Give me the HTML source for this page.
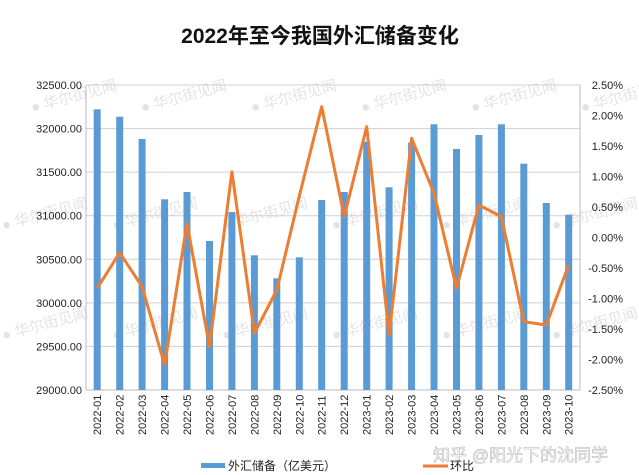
<!DOCTYPE html>
<html><head><meta charset="utf-8"><style>
html,body{margin:0;padding:0;background:#fff;}
svg{display:block;font-family:"Liberation Sans","Noto Sans CJK SC",sans-serif;}
</style></head><body>
<svg width="639" height="475" viewBox="0 0 639 475" xmlns="http://www.w3.org/2000/svg">
<rect width="639" height="475" fill="#fff"/>
<text x="320" y="43" text-anchor="middle" font-size="21" font-weight="bold" fill="#111">2022年至今我国外汇储备变化</text>
<g fill="#ddd" font-size="15" opacity="0.8">
<g transform="rotate(-15 60 100)"><text x="30" y="105">● 华尔街见闻</text></g>
<g transform="rotate(-15 170 100)"><text x="140" y="105">● 华尔街见闻</text></g>
<g transform="rotate(-15 280 100)"><text x="250" y="105">● 华尔街见闻</text></g>
<g transform="rotate(-15 390 100)"><text x="360" y="105">● 华尔街见闻</text></g>
<g transform="rotate(-15 500 100)"><text x="470" y="105">● 华尔街见闻</text></g>
<g transform="rotate(-15 610 100)"><text x="580" y="105">● 华尔街见闻</text></g>
<g transform="rotate(-15 60 210)"><text x="0" y="215">● 华尔街见闻</text></g>
<g transform="rotate(-15 170 210)"><text x="110" y="215">● 华尔街见闻</text></g>
<g transform="rotate(-15 280 210)"><text x="220" y="215">● 华尔街见闻</text></g>
<g transform="rotate(-15 390 210)"><text x="330" y="215">● 华尔街见闻</text></g>
<g transform="rotate(-15 500 210)"><text x="440" y="215">● 华尔街见闻</text></g>
<g transform="rotate(-15 610 210)"><text x="550" y="215">● 华尔街见闻</text></g>
<g transform="rotate(-15 60 320)"><text x="0" y="325">● 华尔街见闻</text></g>
<g transform="rotate(-15 170 320)"><text x="110" y="325">● 华尔街见闻</text></g>
<g transform="rotate(-15 280 320)"><text x="220" y="325">● 华尔街见闻</text></g>
<g transform="rotate(-15 390 320)"><text x="330" y="325">● 华尔街见闻</text></g>
<g transform="rotate(-15 500 320)"><text x="440" y="325">● 华尔街见闻</text></g>
<g transform="rotate(-15 610 320)"><text x="550" y="325">● 华尔街见闻</text></g>
</g>
<g stroke="#d0d0d0" stroke-width="1">
<line x1="86" x2="580" y1="85" y2="85"/>
<line x1="86" x2="580" y1="128.6" y2="128.6"/>
<line x1="86" x2="580" y1="172.1" y2="172.1"/>
<line x1="86" x2="580" y1="215.7" y2="215.7"/>
<line x1="86" x2="580" y1="259.3" y2="259.3"/>
<line x1="86" x2="580" y1="302.9" y2="302.9"/>
<line x1="86" x2="580" y1="346.4" y2="346.4"/>
</g>
<g stroke="#bbb" stroke-width="1">
<line x1="86" x2="86" y1="85" y2="390"/>
<line x1="580" x2="580" y1="85" y2="390"/>
<line x1="86" x2="580" y1="390" y2="390"/>
</g>
<g font-size="11" fill="#222" text-anchor="end">
<text x="82" y="89">32500.00</text>
<text x="82" y="132.6">32000.00</text>
<text x="82" y="176.1">31500.00</text>
<text x="82" y="219.7">31000.00</text>
<text x="82" y="263.3">30500.00</text>
<text x="82" y="306.9">30000.00</text>
<text x="82" y="350.4">29500.00</text>
<text x="82" y="394">29000.00</text>
</g>
<g font-size="11" fill="#222" text-anchor="end">
<text x="623" y="89">2.50%</text>
<text x="623" y="119.5">2.00%</text>
<text x="623" y="150">1.50%</text>
<text x="623" y="180.5">1.00%</text>
<text x="623" y="211">0.50%</text>
<text x="623" y="241.5">0.00%</text>
<text x="623" y="272">-0.50%</text>
<text x="623" y="302.5">-1.00%</text>
<text x="623" y="333">-1.50%</text>
<text x="623" y="363.5">-2.00%</text>
<text x="623" y="394">-2.50%</text>
</g>
<g fill="#5b9bd5">
<rect x="93.7" y="109.3" width="7" height="280.7"/>
<rect x="116.2" y="116.7" width="7" height="273.3"/>
<rect x="138.6" y="139" width="7" height="251"/>
<rect x="161.1" y="199.3" width="7" height="190.7"/>
<rect x="183.5" y="192" width="7" height="198"/>
<rect x="206" y="241" width="7" height="149"/>
<rect x="228.4" y="212" width="7" height="178"/>
<rect x="250.9" y="255.3" width="7" height="134.7"/>
<rect x="273.3" y="278.3" width="7" height="111.7"/>
<rect x="295.8" y="257.3" width="7" height="132.7"/>
<rect x="318.2" y="200" width="7" height="190"/>
<rect x="340.7" y="192" width="7" height="198"/>
<rect x="363.2" y="141.7" width="7" height="248.3"/>
<rect x="385.6" y="187.3" width="7" height="202.7"/>
<rect x="408.1" y="142.7" width="7" height="247.3"/>
<rect x="430.5" y="124.3" width="7" height="265.7"/>
<rect x="453" y="149" width="7" height="241"/>
<rect x="475.4" y="135" width="7" height="255"/>
<rect x="497.9" y="124.3" width="7" height="265.7"/>
<rect x="520.3" y="163.7" width="7" height="226.3"/>
<rect x="542.8" y="203" width="7" height="187"/>
<rect x="565.2" y="214.7" width="7" height="175.3"/>
</g>
<polyline fill="none" stroke="#ed7d31" stroke-width="3" stroke-linejoin="round" points="97.2,288.3 119.7,252.7 142.1,286.7 164.6,365 187,223.3 209.5,346.7 231.9,171.7 254.4,333.3 276.8,290 299.3,196 321.7,106.7 344.2,216.7 366.7,126.7 389.1,335 411.6,138.3 434,193.3 456.5,288.3 478.9,205 501.4,216.7 523.8,321.7 546.3,325 568.7,265"/>
<g font-size="11" fill="#222">
<g transform="translate(101.2,435) rotate(-90)"><text>2022-01</text></g>
<g transform="translate(123.7,435) rotate(-90)"><text>2022-02</text></g>
<g transform="translate(146.1,435) rotate(-90)"><text>2022-03</text></g>
<g transform="translate(168.6,435) rotate(-90)"><text>2022-04</text></g>
<g transform="translate(191,435) rotate(-90)"><text>2022-05</text></g>
<g transform="translate(213.5,435) rotate(-90)"><text>2022-06</text></g>
<g transform="translate(235.9,435) rotate(-90)"><text>2022-07</text></g>
<g transform="translate(258.4,435) rotate(-90)"><text>2022-08</text></g>
<g transform="translate(280.8,435) rotate(-90)"><text>2022-09</text></g>
<g transform="translate(303.3,435) rotate(-90)"><text>2022-10</text></g>
<g transform="translate(325.7,435) rotate(-90)"><text>2022-11</text></g>
<g transform="translate(348.2,435) rotate(-90)"><text>2022-12</text></g>
<g transform="translate(370.7,435) rotate(-90)"><text>2023-01</text></g>
<g transform="translate(393.1,435) rotate(-90)"><text>2023-02</text></g>
<g transform="translate(415.6,435) rotate(-90)"><text>2023-03</text></g>
<g transform="translate(438,435) rotate(-90)"><text>2023-04</text></g>
<g transform="translate(460.5,435) rotate(-90)"><text>2023-05</text></g>
<g transform="translate(482.9,435) rotate(-90)"><text>2023-06</text></g>
<g transform="translate(505.4,435) rotate(-90)"><text>2023-07</text></g>
<g transform="translate(527.8,435) rotate(-90)"><text>2023-08</text></g>
<g transform="translate(550.3,435) rotate(-90)"><text>2023-09</text></g>
<g transform="translate(572.7,435) rotate(-90)"><text>2023-10</text></g>
</g>
<text x="433" y="461" font-size="17" fill="#fff" stroke="#bbb" stroke-width="0.6">知乎 @阳光下的沈同学</text>
<rect x="201" y="463" width="24" height="5" fill="#5b9bd5"/>
<text x="228" y="470" font-size="12" fill="#222">外汇储备（亿美元）</text>
<line x1="423" x2="448" y1="466" y2="466" stroke="#ed7d31" stroke-width="3"/>
<text x="450" y="470" font-size="12" fill="#222">环比</text>
</svg>
</body></html>
